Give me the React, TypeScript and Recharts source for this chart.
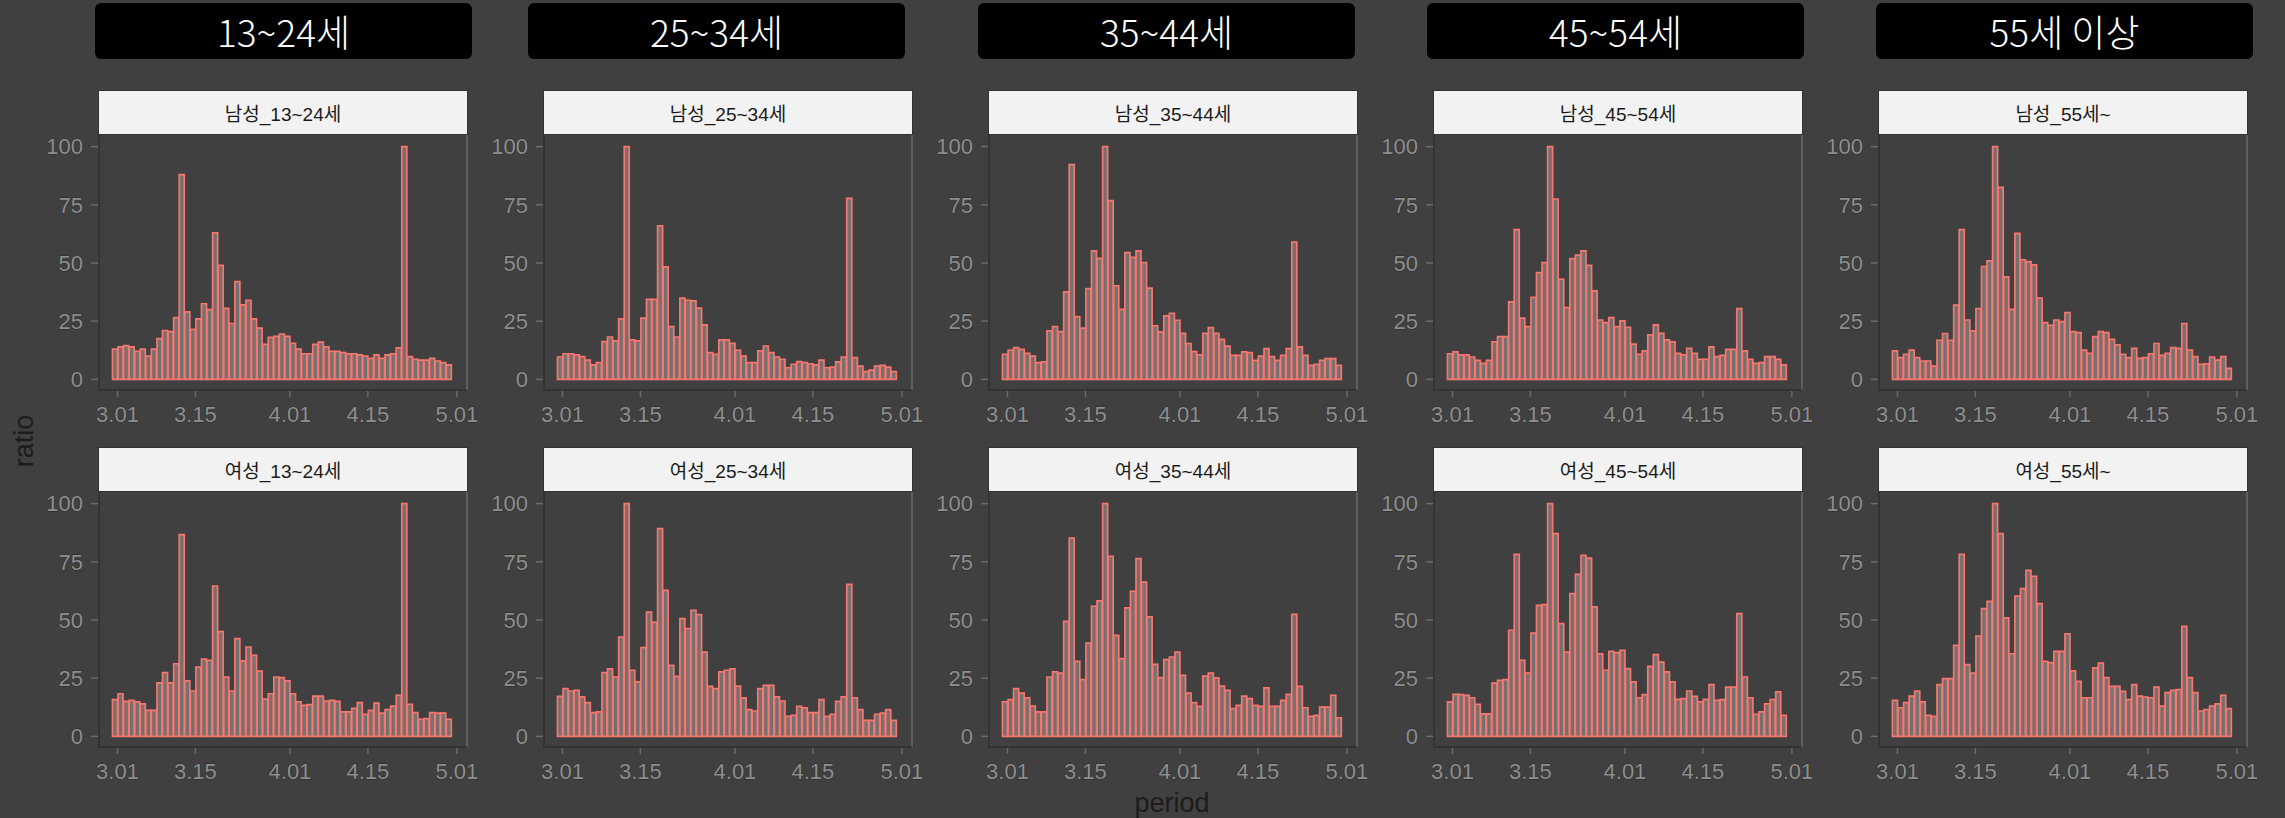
import { BarChart, Bar, XAxis, YAxis } from 'recharts';

// day index 0 = 3/01, 61 days (3/01 ~ 4/30)
const male13 = [13, 14, 14.5, 14, 12, 13, 10, 13, 17.5, 21, 20.5, 26.5, 88, 29, 21.5, 26, 32.5, 30, 63, 49, 30.5, 24, 42, 32, 34, 26, 22, 15, 18, 18.5, 19.5, 18.5, 15.5, 13, 11, 11, 15, 16, 14, 12, 12, 11.5, 11, 11, 10.5, 10, 9, 10.5, 9, 10.5, 11, 13.5, 100, 9.8, 8.6, 8.3, 8.3, 9, 7.9, 7.2, 6.2];
const female13 = [15.8, 18.3, 15, 15.5, 14.8, 14, 11.2, 11.2, 23, 27.4, 23, 31.2, 86.7, 23.8, 19.5, 29.8, 33.2, 32.7, 64.6, 45, 25.5, 19.5, 42, 32.4, 38.4, 34.8, 28, 16, 18.3, 25.5, 25.2, 23.8, 18.3, 14.8, 13.3, 13.6, 17.3, 17.3, 15.2, 15.5, 15, 10.5, 10.5, 12, 14.5, 9.5, 11.2, 14.3, 10, 11.5, 13, 17.6, 100, 13.8, 10.2, 7.3, 7.6, 10.2, 10, 10, 7.3];
const male25 = [9.6, 11, 11, 10.5, 9.8, 8.3, 6.2, 7.2, 16.2, 18.2, 16.5, 26, 100, 17, 16.5, 26.3, 34.4, 34.4, 66, 48.3, 22.7, 18.2, 34.9, 34, 33.7, 30.6, 23.4, 11.5, 10.8, 17, 17, 15.5, 12.5, 10, 7.2, 7.2, 12.2, 14.3, 11.5, 9.6, 8.6, 5, 6.5, 7.6, 7.2, 6.7, 6.2, 8.3, 5, 5.3, 7.5, 9.6, 77.8, 9.3, 5.7, 3.3, 4, 5.7, 6, 5.3, 3.3];
const female25 = [17.2, 20.5, 19.5, 19.8, 17, 14.5, 10.2, 10.5, 27.4, 29, 25.5, 42.7, 100, 28.4, 23.4, 38.1, 53.4, 49, 89.3, 62.7, 30.5, 25.8, 50.6, 46.3, 54.2, 52.3, 36.2, 21.5, 20.5, 27.7, 28.4, 29, 21.6, 16.5, 11.5, 10.9, 20.5, 21.9, 21.9, 17, 15.2, 8.6, 9, 12.9, 12.3, 10.2, 10.2, 15.8, 8.6, 9.5, 15, 17, 65.3, 16.6, 11.5, 6.9, 6.9, 9.5, 10, 11.5, 6.9];
const male35 = [10.8, 12.5, 13.6, 12.9, 11.2, 10, 7.2, 7.5, 20.8, 22.7, 20.5, 37.6, 92.3, 27, 22, 39, 55.2, 52, 100, 76.8, 40.2, 30.1, 54.5, 52.4, 55.2, 50.2, 39.2, 23, 20.4, 27.3, 28.4, 25.4, 19.8, 15.4, 11.9, 10.5, 19.8, 22.2, 19.8, 17.2, 14.3, 10.3, 10.3, 11.8, 11.5, 8.2, 10, 13.2, 9.8, 8.2, 10.3, 13.2, 59, 14, 10.3, 6, 6.5, 8.2, 8.9, 8.9, 6];
const female35 = [14.8, 15.8, 20.5, 18.6, 16.5, 13, 10.5, 10.5, 25.5, 27.7, 27.2, 49.4, 85.2, 32.2, 24.4, 40.1, 55.9, 58.2, 100, 77.4, 43.4, 33.4, 55.2, 62.3, 76.4, 66.3, 51.3, 30.9, 25.2, 33, 34.1, 36.2, 26.2, 18.6, 14.5, 12.9, 25.9, 27.2, 25.1, 21.6, 19.8, 11.9, 13.3, 17.3, 16.2, 13.3, 12.9, 20.8, 12.9, 12.9, 15.5, 18, 52.4, 21.5, 12.3, 8.6, 9, 12.6, 12.6, 17.6, 8];
const male45 = [11, 11.8, 10.5, 10.5, 9.6, 8.2, 6.9, 8.2, 16.1, 18.4, 18.4, 33.3, 64.3, 26.3, 22.7, 35.2, 45.9, 50.2, 100, 77.5, 43, 30.8, 51.9, 53.4, 55.2, 49, 38, 25.5, 24.4, 26.5, 22.7, 25.1, 22.4, 15.1, 10.8, 12.2, 19.1, 23.4, 19.8, 17, 16.1, 11.2, 10.5, 13.3, 11.2, 8.6, 8.6, 14, 9.8, 10.3, 12.9, 12.9, 30.4, 12.2, 8.6, 6.9, 7.2, 9.8, 9.8, 8.6, 6.2];
const female45 = [14.8, 18, 17.9, 17.6, 16.6, 13.8, 9.7, 9.7, 22.9, 24.1, 24.4, 45.6, 78.2, 32.7, 27.2, 44.4, 56.3, 56.6, 100, 87.1, 48.4, 36.2, 61.3, 69.6, 77.8, 76.6, 55.6, 35.5, 28.4, 36.5, 36, 37, 29.1, 23.4, 16.6, 17.9, 30.1, 35.1, 31.9, 27.7, 23.4, 15.9, 16.2, 19.5, 17.2, 14.8, 15.9, 22.2, 15.5, 15.8, 21.2, 21.2, 52.7, 25.5, 16.6, 9.5, 10.5, 14, 15.8, 19.1, 9];
const male55 = [12.2, 9.3, 10.8, 12.6, 9.3, 7.9, 7.9, 5.7, 16.8, 19.7, 16.8, 31.9, 64.3, 25.5, 20.8, 30.4, 48.5, 50.9, 100, 82.5, 44, 30.1, 62.7, 51.4, 50.6, 49.2, 34.9, 24.4, 23.2, 25.5, 24.8, 28.7, 20.5, 20.1, 12.6, 11.2, 18.4, 20.5, 20.1, 17.2, 14.8, 10.8, 9.3, 13.3, 9, 9.3, 11, 15.4, 10.3, 11.2, 13.6, 13.3, 24, 12.6, 9.8, 6.5, 6.7, 9.6, 8.3, 9.8, 4.7];
const female55 = [15.5, 12.3, 14.5, 17.3, 19.5, 14.8, 9, 8.6, 22.2, 24.8, 24.8, 39.1, 78.2, 30.8, 27.2, 43.1, 54.9, 58, 100, 87.1, 50.9, 35.5, 60.3, 63.5, 71.3, 68.8, 57, 32.2, 31.7, 36.5, 36.5, 44.1, 28.1, 23.6, 16.6, 16.6, 29.4, 31.5, 25.2, 21.5, 21.5, 19.3, 15.8, 22.2, 17.3, 16.9, 16.6, 21.2, 13, 18.8, 19.8, 20.1, 47.3, 25.2, 18.8, 10.9, 11.5, 13, 14, 17.6, 11.9];

const groupTitles = ['13~24세', '25~34세', '35~44세', '45~54세', '55세 이상'];
const maleStrips = ['남성_13~24세', '남성_25~34세', '남성_35~44세', '남성_45~54세', '남성_55세~'];
const femaleStrips = ['여성_13~24세', '여성_25~34세', '여성_35~44세', '여성_45~54세', '여성_55세~'];
const maleSeries = [male13, male25, male35, male45, male55];
const femaleSeries = [female13, female25, female35, female45, female55];

const tickDays = [0, 14, 31, 45, 61];
const tickLabels = ['3.01', '3.15', '4.01', '4.15', '5.01'];
const yTicks = [0, 25, 50, 75, 100];

// layout
const panelLefts = [98, 543, 988, 1433, 1878];
const headerLefts = [95, 528, 978, 1427, 1876];
const stripTops = [90, 447];
const PANEL_W = 370;
const PANEL_H = 256;
const STRIP_H = 45;
const Y_AXIS_W = 100;
const X_AXIS_H = 45;
const RIGHT_PAD = 34;
const TICK_SHIFT = 0.4;

const BG = '#404040';
const tickStyle = {
    fill: '#8e8e8e',
    fontSize: 22,
    fontFamily: 'Liberation Sans, Arial, sans-serif',
    stroke: '#2a2a2a',
    strokeWidth: 0.8,
    paintOrder: 'stroke',
};

const Panel = ({ values, strip, left, top }: { values: number[]; strip: string; left: number; top: number }) => {
    const data = values.map((v, i) => ({ x: i, v }));
    const plotTop = top + STRIP_H;
    return (
        <>
            <div
                style={{
                    position: 'absolute',
                    left,
                    top,
                    width: PANEL_W,
                    height: STRIP_H,
                    background: '#f2f2f2',
                    boxSizing: 'border-box',
                    border: '1px solid #333',
                    display: 'flex',
                    alignItems: 'center',
                    justifyContent: 'center',
                    fontFamily: 'Liberation Sans, "Noto Sans CJK KR", sans-serif',
                    fontSize: 19,
                    color: '#1a1a1a',
                }}
            >
                {strip}
            </div>
            <div
                style={{
                    position: 'absolute',
                    left,
                    top: plotTop,
                    width: PANEL_W,
                    height: PANEL_H,
                    boxSizing: 'border-box',
                    borderLeft: '2px solid #333',
                    borderBottom: '2px solid #333',
                    borderRight: '2px solid #5e5e5e',
                }}
            />
            <div style={{ position: 'absolute', left: left - Y_AXIS_W, top: plotTop }}>
                <BarChart
                    width={Y_AXIS_W + PANEL_W + RIGHT_PAD}
                    height={PANEL_H + X_AXIS_H}
                    data={data}
                    margin={{ top: 0, right: RIGHT_PAD, bottom: 0, left: 0 }}
                >
                    <XAxis
                        dataKey="x"
                        type="number"
                        domain={[-3.1, 63.4]}
                        allowDataOverflow
                        ticks={tickDays.map((d) => d + TICK_SHIFT)}
                        tickFormatter={(t) => tickLabels[tickDays.indexOf(Math.round(t - TICK_SHIFT))]}
                        interval={0}
                        height={X_AXIS_H}
                        axisLine={false}
                        tickLine={{ stroke: '#6a6a6a', strokeWidth: 1.5 }}
                        tickSize={6}
                        tickMargin={9}
                        tick={tickStyle}
                    />
                    <YAxis
                        type="number"
                        domain={[-5, 105]}
                        allowDataOverflow
                        ticks={yTicks}
                        interval={0}
                        width={Y_AXIS_W}
                        axisLine={false}
                        tickLine={{ stroke: '#6a6a6a', strokeWidth: 1.5 }}
                        tickSize={7}
                        tickMargin={8}
                        tick={tickStyle}
                    />
                    <Bar
                        dataKey="v"
                        fill="#727070"
                        stroke="#F8766D"
                        strokeWidth={1.7}
                        barSize={5}
                        isAnimationActive={false}
                    />
                </BarChart>
            </div>
        </>
    );
};

const App = () => {
    return (
        <div
            style={{
                position: 'absolute',
                left: 0,
                top: 0,
                width: 2285,
                height: 818,
                background: BG,
                overflow: 'hidden',
            }}
        >
            {groupTitles.map((t, c) => (
                <div
                    key={`h-${c}`}
                    style={{
                        position: 'absolute',
                        left: headerLefts[c],
                        top: 3,
                        width: 377,
                        height: 56,
                        background: '#000',
                        borderRadius: 6,
                        color: '#fff',
                        display: 'flex',
                        alignItems: 'center',
                        justifyContent: 'center',
                        fontFamily: '"Noto Sans CJK KR", sans-serif',
                        fontWeight: 300,
                        fontSize: 37,
                    }}
                >
                    {t}
                </div>
            ))}
            {maleSeries.map((vals, c) => (
                <Panel key={`m-${c}`} values={vals} strip={maleStrips[c]} left={panelLefts[c]} top={stripTops[0]} />
            ))}
            {femaleSeries.map((vals, c) => (
                <Panel key={`f-${c}`} values={vals} strip={femaleStrips[c]} left={panelLefts[c]} top={stripTops[1]} />
            ))}
            <div
                style={{
                    position: 'absolute',
                    left: 24,
                    top: 441,
                    transform: 'translate(-50%, -50%) rotate(-90deg)',
                    fontFamily: 'Liberation Sans, Arial, sans-serif',
                    fontSize: 27,
                    color: '#1c1c1c',
                    whiteSpace: 'nowrap',
                }}
            >
                ratio
            </div>
            <div
                style={{
                    position: 'absolute',
                    left: 1172,
                    top: 803,
                    transform: 'translate(-50%, -50%)',
                    fontFamily: 'Liberation Sans, Arial, sans-serif',
                    fontSize: 27,
                    color: '#1c1c1c',
                    whiteSpace: 'nowrap',
                }}
            >
                period
            </div>
        </div>
    );
};

export default App;
